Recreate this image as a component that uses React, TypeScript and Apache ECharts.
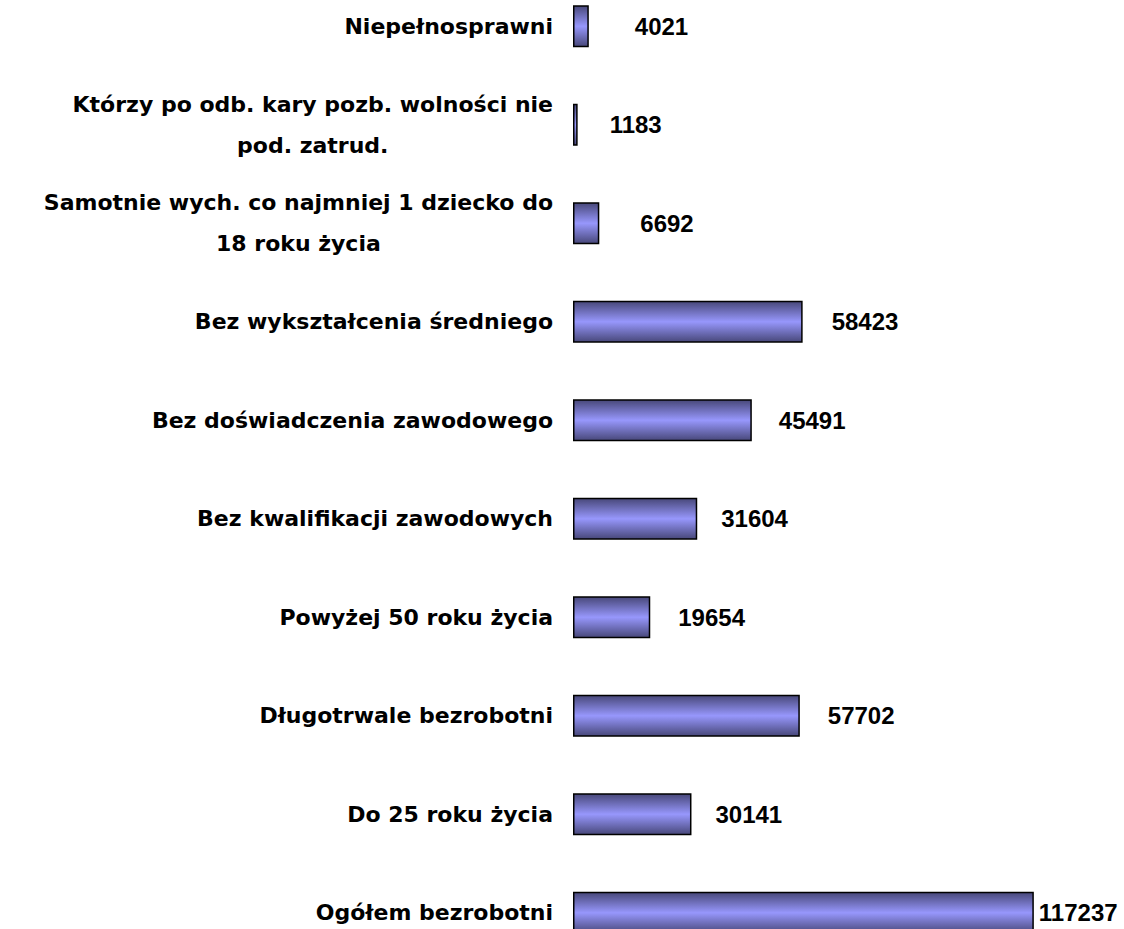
import React, { useEffect, useRef } from "react";
import * as echarts from "echarts";

const categories = [
  "Niepełnosprawni",
  "Którzy po odb. kary pozb. wolności nie\npod. zatrud.",
  "Samotnie wych. co najmniej 1 dziecko do\n18 roku życia",
  "Bez wykształcenia średniego",
  "Bez doświadczenia zawodowego",
  "Bez kwalifikacji zawodowych",
  "Powyżej 50 roku życia",
  "Długotrwale bezrobotni",
  "Do 25 roku życia",
  "Ogółem bezrobotni",
];

const values = [4021, 1183, 6692, 58423, 45491, 31604, 19654, 57702, 30141, 117237];

// distance of each value label from its bar end (styling, px)
const labelGaps = [46, 32, 41, 29, 27, 24, 28, 28, 24, 5];

export default function App() {
  const ref = useRef<HTMLDivElement>(null);
  useEffect(() => {
    if (!ref.current) return;
    const chart = echarts.init(ref.current, null, { renderer: "svg" });
    const barGradient = new echarts.graphic.LinearGradient(0, 0, 0, 1, [
      { offset: 0, color: "#48487a" },
      { offset: 0.5, color: "#9797fc" },
      { offset: 1, color: "#48487a" },
    ]);
    chart.setOption({
      animation: false,
      backgroundColor: "#ffffff",
      grid: { left: 573, right: 40, top: 0, bottom: 0, containLabel: false },
      xAxis: {
        type: "value",
        min: 0,
        max: 130000,
        show: false,
      },
      yAxis: {
        type: "category",
        inverse: true,
        data: categories,
        axisLine: { show: false },
        axisTick: { show: false },
        splitLine: { show: false },
        axisLabel: {
          margin: 20,
          formatter: (v: string) =>
            v
              .split("\n")
              .map((l) => `{c|${l}}`)
              .join("\n"),
          rich: {
            c: {
              align: "center",
              fontFamily: "DejaVu Sans",
              fontWeight: "bold",
              fontSize: 22,
              lineHeight: 41,
              color: "#000000",
            },
          },
        },
      },
      series: [
        {
          type: "bar",
          barWidth: 42,
          data: values.map((v, i) => ({
            value: v,
            label: { distance: labelGaps[i] },
          })),
          itemStyle: {
            color: barGradient,
            borderColor: "#000000",
            borderWidth: 1.5,
          },
          label: {
            show: true,
            position: "right",
            fontFamily: "Liberation Sans",
            fontWeight: "bold",
            fontSize: 24,
            color: "#000000",
          },
        },
      ],
    });
    return () => chart.dispose();
  }, []);
  return (
    <div
      ref={ref}
      style={{ position: "fixed", left: 0, top: -23, width: 1124, height: 985 }}
    />
  );
}
